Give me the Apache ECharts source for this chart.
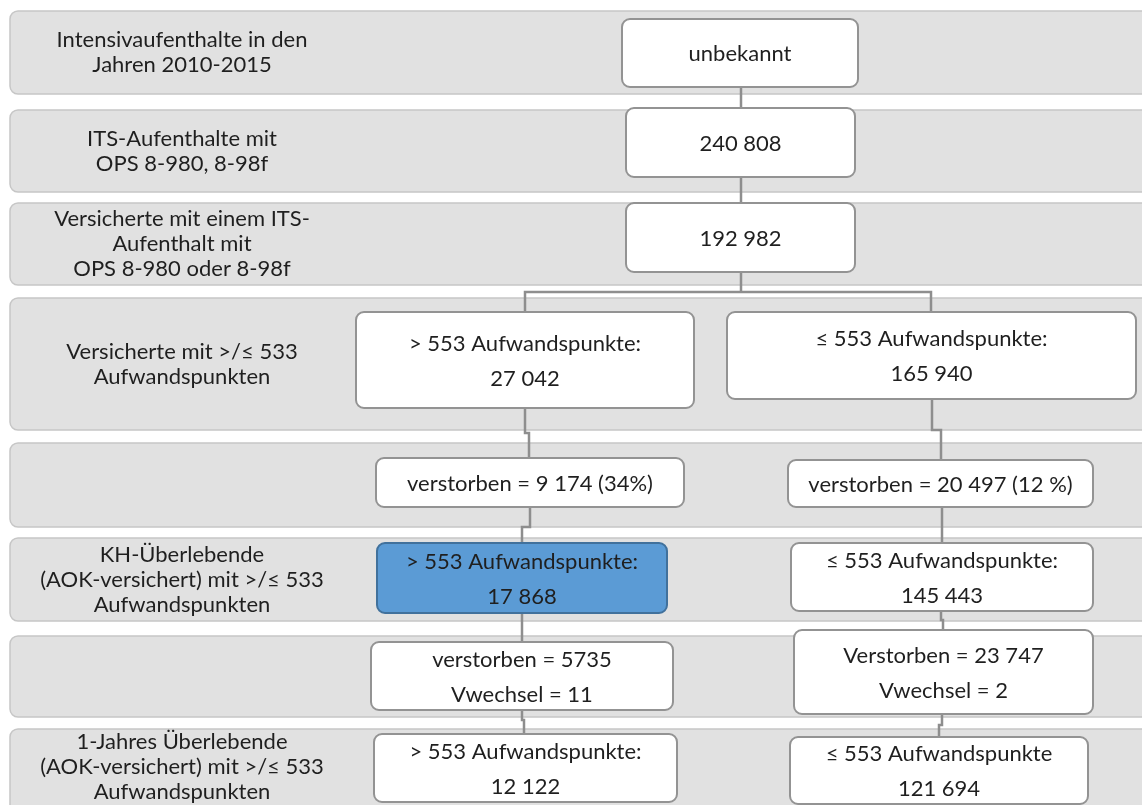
<!DOCTYPE html>
<html>
<head>
<meta charset="utf-8">
<script src="https://cdn.jsdelivr.net/npm/echarts@6/dist/echarts.min.js"></script>
<style>html,body{margin:0;padding:0;background:#fff}#c{width:1142px;height:805px}</style>
</head>
<body>
<div id="c"></div>
<script>
// ---- data (texts of the flow chart) ----
const rowLabels = [
  'Intensivaufenthalte in den\nJahren 2010-2015',
  'ITS-Aufenthalte mit\nOPS 8-980, 8-98f',
  'Versicherte mit einem ITS-\nAufenthalt mit\nOPS 8-980 oder 8-98f',
  'Versicherte mit >/≤ 533\nAufwandspunkten',
  '',
  'KH-Überlebende\n(AOK-versichert) mit >/≤ 533\nAufwandspunkten',
  '',
  '1-Jahres Überlebende\n(AOK-versichert) mit >/≤ 533\nAufwandspunkten'
];
const centerTexts = ['unbekannt', '240 808', '192 982'];
const highTexts = [
  '> 553 Aufwandspunkte:\n27 042',
  'verstorben = 9 174 (34%)',
  '> 553 Aufwandspunkte:\n17 868',
  'verstorben = 5735\nVwechsel = 11',
  '> 553 Aufwandspunkte:\n12 122'
];
const lowTexts = [
  '≤ 553 Aufwandspunkte:\n165 940',
  'verstorben = 20 497 (12 %)',
  '≤ 553 Aufwandspunkte:\n145 443',
  'Verstorben = 23 747\nVwechsel = 2',
  '≤ 553 Aufwandspunkte\n121 694'
];
const highlighted = ['high', 2]; // highlighted node (column, index)

// ---- layout (positions in chart units, separate from data) ----
const bandLayout = [[11,94],[110,192],[203,285],[298,430],[443,527],[538,621],[636,717],[729,840]];
const bandX = [10, 1160];
const labelCenterX = 182;
const centerLayout = [[622,858,19,87],[626,855,108,177],[626,855,203,272]];
const highLayout = [[356,694,312,408],[376,684,458,507],[377,667,543,613],[371,673,642,710],[374,677,734,802]];
const lowLayout  = [[727,1136,312,399],[788,1093,460,507],[791,1093,543,611],[794,1093,630,714],[790,1088,737,804]];
const connectors = [
  [[741,87],[741,108]],
  [[741,177],[741,203]],
  [[741,272],[741,292]],
  [[525,312],[525,292],[931,292],[931,312]],
  [[525,408],[525,433],[529,433],[529,458]],
  [[530,507],[530,527],[522,527],[522,543]],
  [[522,613],[522,642]],
  [[522,710],[522,720],[524,720],[524,734]],
  [[932,399],[932,430],[941,430],[941,460]],
  [[942,507],[942,543]],
  [[941,611],[941,620],[943,620],[943,630]],
  [[942,714],[942,725],[939,725],[939,737]]
];

const FONT = '22px Lato, "Open Sans", sans-serif';
const TXT = '#1f1f1f';

const nodes = [];
centerTexts.forEach((t,i)=>nodes.push({col:'center', idx:i, text:t, box:centerLayout[i]}));
highTexts.forEach((t,i)=>nodes.push({col:'high', idx:i, text:t, box:highLayout[i]}));
lowTexts.forEach((t,i)=>nodes.push({col:'low', idx:i, text:t, box:lowLayout[i]}));

const chart = echarts.init(document.getElementById('c'), null, {renderer:'canvas'});
chart.setOption({
  animation:false,
  backgroundColor:'#ffffff',
  grid:{left:0,right:0,top:0,bottom:0},
  xAxis:{type:'value',min:0,max:1142,show:false},
  yAxis:{type:'value',min:0,max:805,inverse:true,show:false},
  series:[
    { // bands with row labels
      type:'custom', coordinateSystem:'cartesian2d', silent:true, z:1,
      data: rowLabels.map((l,i)=>[bandX[0], bandLayout[i][0], bandX[1], bandLayout[i][1]]),
      renderItem:(params, api)=>{
        const i = params.dataIndex;
        const p0 = api.coord([api.value(0), api.value(1)]);
        const p1 = api.coord([api.value(2), api.value(3)]);
        const pc = api.coord([labelCenterX, (api.value(1)+Math.min(api.value(3),805))/2]);
        return {type:'group', children:[
          {type:'rect', shape:{x:p0[0], y:p0[1], width:p1[0]-p0[0], height:p1[1]-p0[1], r:8},
           style:{fill:'#e1e1e1', stroke:'#c6c6c6', lineWidth:1.5}},
          {type:'text', x:pc[0], y:pc[1], style:{text:rowLabels[i], font:FONT, fill:TXT,
            align:'center', verticalAlign:'middle', lineHeight:25}}
        ]};
      }
    },
    { // connectors
      type:'custom', coordinateSystem:'cartesian2d', silent:true, z:2,
      data: connectors.map((c,i)=>[i]),
      renderItem:(params, api)=>{
        const pts = connectors[params.dataIndex].map(p=>api.coord(p));
        return {type:'polyline', shape:{points:pts}, style:{stroke:'#8e8e8e', lineWidth:2.5, fill:null}};
      }
    },
    { // nodes
      type:'custom', coordinateSystem:'cartesian2d', silent:true, z:3,
      data: nodes.map(n=>n.box),
      renderItem:(params, api)=>{
        const n = nodes[params.dataIndex];
        const p0 = api.coord([api.value(0), api.value(2)]);
        const p1 = api.coord([api.value(1), api.value(3)]);
        const hl = n.col===highlighted[0] && n.idx===highlighted[1];
        return {type:'group', children:[
          {type:'rect', shape:{x:p0[0], y:p0[1], width:p1[0]-p0[0], height:p1[1]-p0[1], r:8},
           style:{fill: hl ? '#5b9bd5' : '#ffffff', stroke: hl ? '#41719c' : '#939393', lineWidth:2}},
          {type:'text', x:(p0[0]+p1[0])/2, y:(p0[1]+p1[1])/2+1, style:{text:n.text, font:FONT, fill:TXT,
            align:'center', verticalAlign:'middle', lineHeight:35}}
        ]};
      }
    }
  ]
});
</script>
</body>
</html>
